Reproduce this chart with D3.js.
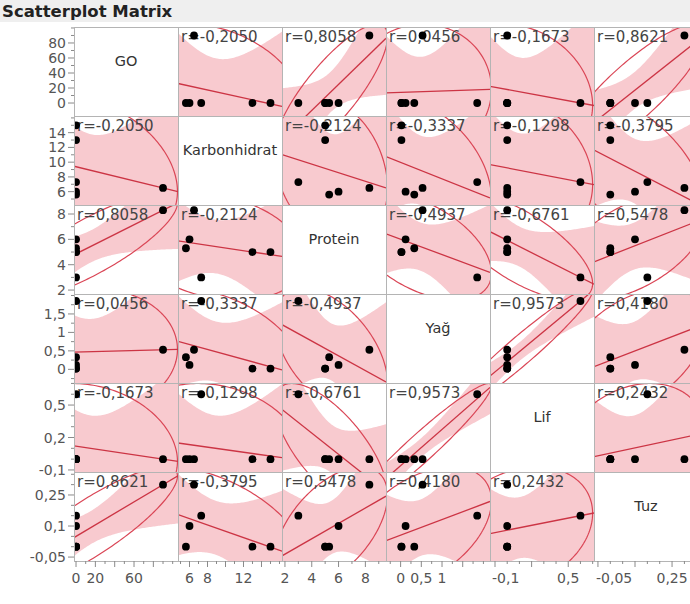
<!DOCTYPE html>
<html>
<head>
<meta charset="utf-8">
<script src="https://cdn.jsdelivr.net/npm/d3@7"></script>
<style>
body { margin: 0; background: #fff; }
svg text { font-family: "DejaVu Sans", sans-serif; }
</style>
</head>
<body>
<svg id="chart" width="690" height="604"></svg>
<script>
// variables (6 foods)
const varNames = ["GO", "Karbonhidrat", "Protein", "Yağ", "Lif", "Tuz"];
const GO = [0, 0, 0, 0, 0, 90];
const Karbonhidrat = [15, 13, 7.3, 6, 5.6, 6.5];
const Protein = [5, 5, 3, 6, 5.3, 8.3];
const Yag = [0.02, 0.02, 1.85, 0.12, 0.33, 0.53];
const Lif = [0, 0, 0.6, 0, 0, 0];
const Tuz = [0, 0, 0.15, 0.1, 0, 0.3];
const series = [GO, Karbonhidrat, Protein, Yag, Lif, Tuz];

// correlations as printed
const rValues = [
    [null, -0.2050, 0.8058, 0.0456, -0.1673, 0.8621],
    [-0.2050, null, -0.2124, -0.3337, -0.1298, -0.3795],
    [0.8058, -0.2124, null, -0.4937, -0.6761, 0.5478],
    [0.0456, -0.3337, -0.4937, null, 0.9573, 0.4180],
    [-0.1673, -0.1298, -0.6761, 0.9573, null, 0.2432],
    [0.8621, -0.3795, 0.5478, 0.4180, 0.2432, null]
];

// axis ranges and ticks
const xDomains = [[-2.1, 105.5], [4.72, 16.28], [1.78, 9.54], [-0.353, 2.159], [-0.141, 0.711], [-0.066, 0.355]];
const yDomains = [[-17.3, 101.3], [4.19, 16.26], [1.69, 8.71], [-0.37, 2.04], [-0.119, 0.704], [-0.069, 0.361]];
const majorTicks = [[0, 20, 40, 60, 80], [6, 8, 10, 12, 14], [2, 4, 6, 8], [0, 0.5, 1, 1.5], [-0.1, 0.2, 0.5], [-0.05, 0.1, 0.25]];
const minorTicks = [[10, 30, 50, 70, 90, 100], [5, 7, 9, 11, 13, 15, 16], [3, 5, 7, 9], [-0.25, 0.25, 0.75, 1.25, 1.75, 2], [0, 0.1, 0.3, 0.4, 0.6, 0.7], [0, 0.05, 0.15, 0.2, 0.3, 0.35]];
const xTickLabels = [[0, 20, 60], [6, 8, 12], [2, 4, 6, 8], [0, 0.5, 1], [-0.1, 0.5], [-0.05, 0.25]];
const yTickLabels = [[0, 20, 40, 60, 80], [6, 8, 10, 12, 14], [2, 4, 6, 8], [0, 0.5, 1, 1.5], [-0.1, 0.2, 0.5], [-0.05, 0.1, 0.25]];

const gridLeft = 74, gridTop = 27, cellW = 104, cellH = 89;
const nv = varNames.length;
const gridBottom = gridTop + nv * cellH;

const tCrit = 2.7764;      // t(0.975, df=4)
const ellC = 2.4477;       // sqrt(chi2(0.95, 2))

const fmt = v => String(v).replace(".", ",");

const svg = d3.select("#chart");

svg.append("rect").attr("x", 0).attr("y", 0).attr("width", 690).attr("height", 22).attr("fill", "#efefef");
svg.append("text")
    .attr("x", 2).attr("y", 17)
    .style("font-size", "16.5px").style("font-weight", "bold").style("fill", "#222")
    .text("Scatterplot Matrix");

const xs = series.map((s, j) => d3.scaleLinear().domain(xDomains[j]).range([gridLeft + j * cellW, gridLeft + (j + 1) * cellW]));
const ys = series.map((s, i) => d3.scaleLinear().domain(yDomains[i]).range([gridTop + (i + 1) * cellH, gridTop + i * cellH]));

const defs = svg.append("defs");

function stats(xv, yv) {
    const n = xv.length;
    const mx = d3.mean(xv), my = d3.mean(yv);
    let sxx = 0, syy = 0, sxy = 0;
    for (let k = 0; k < n; k++) {
        sxx += (xv[k] - mx) ** 2;
        syy += (yv[k] - my) ** 2;
        sxy += (xv[k] - mx) * (yv[k] - my);
    }
    return {n, mx, my, sxx, syy, sxy};
}

for (let i = 0; i < nv; i++) {
    for (let j = 0; j < nv; j++) {
        const cx = gridLeft + j * cellW, cy = gridTop + i * cellH;
        const g = svg.append("g");
        if (i === j) {
            g.append("text")
                .attr("x", cx + cellW / 2).attr("y", cy + 38.5)
                .attr("text-anchor", "middle")
                .style("font-size", "14.5px").style("fill", "#333")
                .text(varNames[i]);
            continue;
        }
        const id = `clip-${i}-${j}`;
        defs.append("clipPath").attr("id", id)
            .append("rect").attr("x", cx).attr("y", cy).attr("width", cellW).attr("height", cellH);
        const cg = g.append("g").attr("clip-path", `url(#${id})`);

        const xv = series[j], yv = series[i];
        const x = xs[j], y = ys[i];
        const st = stats(xv, yv);
        const b = st.sxy / st.sxx;
        const a = st.my - b * st.mx;
        const s = Math.sqrt((st.syy - b * st.sxy) / (st.n - 2));

        // confidence band of the fit
        const xGrid = d3.range(0, 81).map(k => xDomains[j][0] + (xDomains[j][1] - xDomains[j][0]) * k / 80);
        const half = xx => tCrit * s * Math.sqrt(1 / st.n + (xx - st.mx) ** 2 / st.sxx);
        cg.append("path")
            .datum(xGrid)
            .attr("fill", "#f8cacf")
            .attr("d", d3.area()
                .x(d => x(d))
                .y0(d => y(a + b * d - half(d)))
                .y1(d => y(a + b * d + half(d))));

        // density ellipse
        const n1 = st.n - 1;
        const vx = st.sxx / n1, vy = st.syy / n1, cxy = st.sxy / n1;
        const l11 = Math.sqrt(vx), l21 = cxy / l11, l22 = Math.sqrt(Math.max(vy - l21 * l21, 1e-12));
        const ang = d3.range(0, 200).map(k => 2 * Math.PI * k / 200);
        cg.append("path")
            .datum(ang)
            .attr("fill", "none")
            .attr("stroke", "#da4656")
            .attr("stroke-width", 1.2)
            .attr("d", d3.line()
                .curve(d3.curveLinearClosed)
                .x(t => x(st.mx + ellC * l11 * Math.cos(t)))
                .y(t => y(st.my + ellC * (l21 * Math.cos(t) + l22 * Math.sin(t)))));

        // fit line
        cg.append("path")
            .datum(xDomains[j])
            .attr("fill", "none")
            .attr("stroke", "#cc3444")
            .attr("stroke-width", 1.3)
            .attr("d", d3.line().x(d => x(d)).y(d => y(a + b * d)));

        cg.append("text")
            .attr("x", cx + 3).attr("y", cy + 14.5)
            .style("font-size", "15px").style("fill", "#444")
            .text("r=" + rValues[i][j].toFixed(4).replace(".", ","));

        cg.selectAll("circle")
            .data(xv.map((d, k) => [d, yv[k]]))
            .enter()
            .append("circle")
            .attr("cx", d => x(d[0]))
            .attr("cy", d => y(d[1]))
            .attr("r", 3.9)
            .attr("fill", "#000");
    }
}

// cell borders
for (let i = 0; i < nv; i++) {
    for (let j = 0; j < nv; j++) {
        svg.append("rect")
            .attr("x", gridLeft + j * cellW + 0.5).attr("y", gridTop + i * cellH + 0.5)
            .attr("width", cellW).attr("height", cellH)
            .attr("fill", "none").attr("stroke", "#b4b4b4");
    }
}

// y axes (left)
const tickCol = "#8a8a8a";
for (let i = 0; i < nv; i++) {
    const y = ys[i];
    const inY = v => y(v) >= gridTop + i * cellH - 0.5 && y(v) <= gridTop + (i + 1) * cellH + 0.5;
    majorTicks[i].filter(inY).forEach(v => {
        svg.append("line").attr("x1", gridLeft - 6).attr("x2", gridLeft).attr("y1", y(v)).attr("y2", y(v)).attr("stroke", tickCol);
    });
    minorTicks[i].filter(inY).forEach(v => {
        svg.append("line").attr("x1", gridLeft - 3).attr("x2", gridLeft).attr("y1", y(v)).attr("y2", y(v)).attr("stroke", tickCol);
    });
    yTickLabels[i].forEach(v => {
        svg.append("text")
            .attr("x", gridLeft - 8).attr("y", y(v)).attr("dy", "0.36em")
            .attr("text-anchor", "end")
            .style("font-size", "14px").style("fill", "#555")
            .text(fmt(v));
    });
}

// x axes (bottom)
for (let j = 0; j < nv; j++) {
    const x = xs[j];
    const colLeft = gridLeft + j * cellW;
    const inX = v => x(v) >= colLeft - 0.5 && x(v) <= colLeft + cellW + 0.5;
    majorTicks[j].filter(inX).forEach(v => {
        svg.append("line").attr("y1", gridBottom).attr("y2", gridBottom + 6).attr("x1", x(v)).attr("x2", x(v)).attr("stroke", tickCol);
    });
    minorTicks[j].filter(inX).forEach(v => {
        svg.append("line").attr("y1", gridBottom).attr("y2", gridBottom + 3).attr("x1", x(v)).attr("x2", x(v)).attr("stroke", tickCol);
    });
    xTickLabels[j].forEach(v => {
        const t = svg.append("text")
            .attr("x", x(v)).attr("y", gridBottom + 22)
            .attr("text-anchor", "middle")
            .style("font-size", "14px").style("fill", "#555")
            .text(fmt(v));
        const w = t.node().getComputedTextLength();
        if (x(v) - w / 2 < colLeft - 3) t.attr("x", colLeft + 2 + w / 2);
    });
}
</script>
</body>
</html>
